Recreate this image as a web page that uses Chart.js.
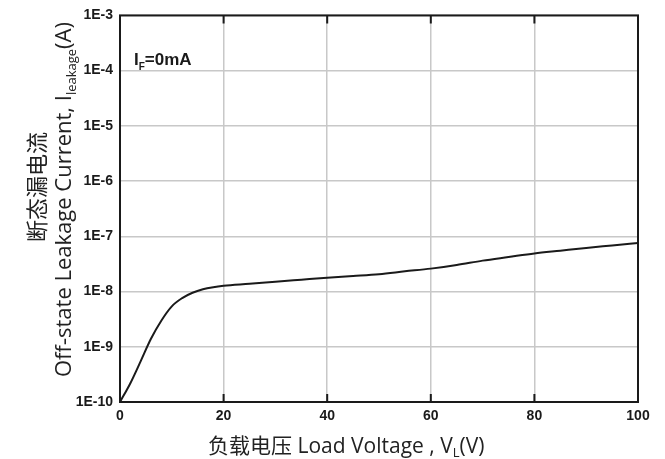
<!DOCTYPE html>
<html>
<head>
<meta charset="utf-8">
<script src="https://cdn.jsdelivr.net/npm/chart.js@4"></script>
<style>
html,body{margin:0;padding:0;background:#fff;}
#wrap{width:665px;height:459px;}
</style>
</head>
<body>
<div id="wrap"><canvas id="c" width="665" height="459"></canvas></div>
<script>
// ---- data ----
const voltage = [0, 2, 4, 6, 8, 10, 12, 14, 16, 18, 20, 25, 30, 35, 40, 45, 50, 55, 60, 65, 70, 75, 80, 85, 90, 95, 100];
const leakage = [1.0e-10, 2.19e-10, 5.5e-10, 1.41e-9, 3.0e-9, 5.4e-9, 7.6e-9, 9.5e-9, 1.10e-8, 1.20e-8, 1.27e-8,
                 1.38e-8, 1.51e-8, 1.64e-8, 1.78e-8, 1.91e-8, 2.06e-8, 2.32e-8, 2.60e-8, 3.02e-8, 3.63e-8,
                 4.22e-8, 4.90e-8, 5.50e-8, 6.17e-8, 6.84e-8, 7.59e-8];
const yTickValues = [1e-10, 1e-9, 1e-8, 1e-7, 1e-6, 1e-5, 1e-4, 1e-3];
const yTickLabels = ['1E-10', '1E-9', '1E-8', '1E-7', '1E-6', '1E-5', '1E-4', '1E-3'];
const xTickValues = [0, 20, 40, 60, 80, 100];
const xTickLabels = ['0', '20', '40', '60', '80', '100'];
const annotationText = ['I', 'F', '=0mA'];
const xTitleParts = [['负载电压 Load Voltage , V', 'n'], ['L', 's'], ['(V)', 'n']];
const yTitleLine1 = '断态漏电流';
const yTitleParts = [['Off-state Leakage Current, I', 'n'], ['leakage', 's'], ['(A)', 'n']];

const points = voltage.map((v, i) => ({x: v, y: leakage[i]}));

const TITLE_FONT = '"Open Sans", "Noto Sans CJK SC", sans-serif';
const TICK_FONT = 'Liberation Sans, Arial, sans-serif';

function drawRich(ctx, parts, size, subSize, subDrop) {
  let x = 0;
  parts.forEach(([t, kind]) => {
    if (kind === 's') {
      ctx.font = subSize + 'px ' + TITLE_FONT;
      ctx.fillText(t, x, subDrop);
    } else {
      ctx.font = size + 'px ' + TITLE_FONT;
      ctx.fillText(t, x, 0);
    }
    x += ctx.measureText(t).width;
  });
}

const framePlugin = {
  id: 'frame',
  afterDatasetsDraw(chart) {
    const {ctx, chartArea: a, scales} = chart;
    ctx.save();
    ctx.strokeStyle = '#1a1a1a';
    ctx.lineWidth = 2;
    ctx.strokeRect(a.left, a.top, a.right - a.left, a.bottom - a.top);
    ctx.beginPath();
    xTickValues.forEach(v => {
      const px = scales.x.getPixelForValue(v);
      ctx.moveTo(px, a.top); ctx.lineTo(px, a.top + 8);
      ctx.moveTo(px, a.bottom); ctx.lineTo(px, a.bottom - 8);
    });
    ctx.stroke();
    ctx.restore();
  },
  afterDraw(chart) {
    const {ctx} = chart;
    ctx.save();
    ctx.fillStyle = '#1a1a1a';
    ctx.textAlign = 'left';
    ctx.textBaseline = 'alphabetic';
    // annotation I_F=0mA
    ctx.font = 'bold 17px ' + TICK_FONT;
    ctx.fillText(annotationText[0], 134, 65);
    let w = ctx.measureText(annotationText[0]).width;
    ctx.font = 'bold 10px ' + TICK_FONT;
    ctx.fillText(annotationText[1], 134 + w, 70);
    const w2 = ctx.measureText(annotationText[1]).width;
    ctx.font = 'bold 17px ' + TICK_FONT;
    ctx.fillText(annotationText[2], 134 + w + w2, 65);

    // x axis title
    ctx.fillStyle = '#222';
    ctx.save();
    ctx.translate(208, 453);
    drawRich(ctx, xTitleParts, 21, 13, 4);
    ctx.restore();

    // y axis title, line 1
    ctx.save();
    ctx.translate(45, 242);
    ctx.rotate(-Math.PI / 2);
    ctx.font = '22px "Noto Sans CJK SC", sans-serif';
    ctx.fillText(yTitleLine1, 0, 0);
    ctx.restore();

    // y axis title, line 2
    ctx.save();
    ctx.translate(71, 377);
    ctx.rotate(-Math.PI / 2);
    drawRich(ctx, yTitleParts, 22, 13, 5);
    ctx.restore();
    ctx.restore();
  }
};

new Chart(document.getElementById('c'), {
  type: 'line',
  data: {
    datasets: [{
      data: points,
      borderColor: '#1a1a1a',
      borderWidth: 2,
      pointRadius: 0,
      fill: false,
      cubicInterpolationMode: 'monotone'
    }]
  },
  options: {
    responsive: false,
    animation: false,
    devicePixelRatio: 1,
    layout: {padding: {top: 15, right: 27, left: 0, bottom: 0}},
    plugins: {legend: {display: false}, tooltip: {enabled: false}, title: {display: false}},
    scales: {
      x: {
        type: 'linear',
        min: 0, max: 100,
        afterBuildTicks(scale) { scale.ticks = xTickValues.map(v => ({value: v})); },
        afterFit(scale) { scale.height = 57; },
        grid: {color: '#c8c8c8', lineWidth: 1.5, drawTicks: false},
        border: {display: false},
        ticks: {
          padding: 6,
          color: '#1a1a1a',
          font: {family: TICK_FONT, size: 14, weight: 'bold'},
          callback: (v) => { const i = xTickValues.indexOf(v); return i >= 0 ? xTickLabels[i] : ''; }
        }
      },
      y: {
        type: 'logarithmic',
        min: 1e-10, max: 1e-3,
        afterBuildTicks(scale) { scale.ticks = yTickValues.map(v => ({value: v})); },
        afterFit(scale) { scale.width = 120; },
        grid: {color: '#c8c8c8', lineWidth: 1.5, drawTicks: false},
        border: {display: false},
        ticks: {
          padding: 7,
          color: '#1a1a1a',
          font: {family: TICK_FONT, size: 14, weight: 'bold'},
          callback: (v) => {
            const i = yTickValues.findIndex(t => Math.abs(Math.log10(t) - Math.log10(v)) < 1e-6);
            return i >= 0 ? yTickLabels[i] : '';
          }
        }
      }
    }
  },
  plugins: [framePlugin]
});
</script>
</body>
</html>
